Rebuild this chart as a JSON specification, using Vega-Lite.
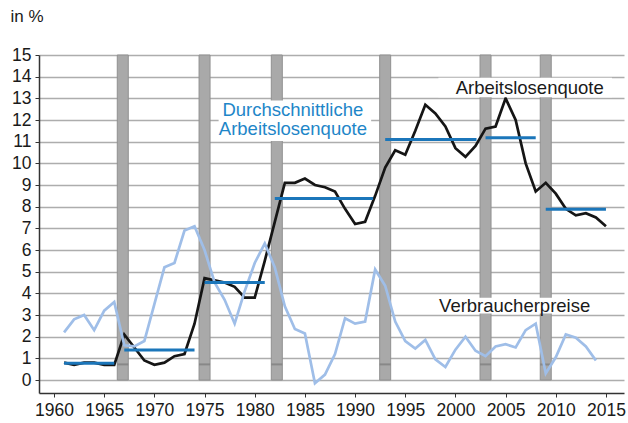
{
  "$schema": "https://vega.github.io/schema/vega-lite/v6.json",
  "width": 585,
  "height": 338,
  "autosize": "none",
  "padding": {"left": 39, "top": 55, "right": 4, "bottom": 30},
  "background": "white",
  "config": {
    "view": {"stroke": null},
    "font": "Liberation Sans",
    "axis": {"labelFont": "Liberation Sans", "titleFont": "Liberation Sans", "labelColor": "#1a1a1a", "titleColor": "#1a1a1a"}
  },
  "datasets": {
    "series": [
      {"year": 1961, "series": "Arbeitslosenquote", "value": 0.8},
      {"year": 1962, "series": "Arbeitslosenquote", "value": 0.7},
      {"year": 1963, "series": "Arbeitslosenquote", "value": 0.8},
      {"year": 1964, "series": "Arbeitslosenquote", "value": 0.8},
      {"year": 1965, "series": "Arbeitslosenquote", "value": 0.7},
      {"year": 1966, "series": "Arbeitslosenquote", "value": 0.7},
      {"year": 1967, "series": "Arbeitslosenquote", "value": 2.1},
      {"year": 1968, "series": "Arbeitslosenquote", "value": 1.5},
      {"year": 1969, "series": "Arbeitslosenquote", "value": 0.9},
      {"year": 1970, "series": "Arbeitslosenquote", "value": 0.7},
      {"year": 1971, "series": "Arbeitslosenquote", "value": 0.8},
      {"year": 1972, "series": "Arbeitslosenquote", "value": 1.1},
      {"year": 1973, "series": "Arbeitslosenquote", "value": 1.2},
      {"year": 1974, "series": "Arbeitslosenquote", "value": 2.6},
      {"year": 1975, "series": "Arbeitslosenquote", "value": 4.7},
      {"year": 1976, "series": "Arbeitslosenquote", "value": 4.6},
      {"year": 1977, "series": "Arbeitslosenquote", "value": 4.5},
      {"year": 1978, "series": "Arbeitslosenquote", "value": 4.3},
      {"year": 1979, "series": "Arbeitslosenquote", "value": 3.8},
      {"year": 1980, "series": "Arbeitslosenquote", "value": 3.8},
      {"year": 1981, "series": "Arbeitslosenquote", "value": 5.5},
      {"year": 1982, "series": "Arbeitslosenquote", "value": 7.3},
      {"year": 1983, "series": "Arbeitslosenquote", "value": 9.1},
      {"year": 1984, "series": "Arbeitslosenquote", "value": 9.1},
      {"year": 1985, "series": "Arbeitslosenquote", "value": 9.3},
      {"year": 1986, "series": "Arbeitslosenquote", "value": 9.0},
      {"year": 1987, "series": "Arbeitslosenquote", "value": 8.9},
      {"year": 1988, "series": "Arbeitslosenquote", "value": 8.7},
      {"year": 1989, "series": "Arbeitslosenquote", "value": 7.9},
      {"year": 1990, "series": "Arbeitslosenquote", "value": 7.2},
      {"year": 1991, "series": "Arbeitslosenquote", "value": 7.3},
      {"year": 1992, "series": "Arbeitslosenquote", "value": 8.5},
      {"year": 1993, "series": "Arbeitslosenquote", "value": 9.8},
      {"year": 1994, "series": "Arbeitslosenquote", "value": 10.6},
      {"year": 1995, "series": "Arbeitslosenquote", "value": 10.4},
      {"year": 1996, "series": "Arbeitslosenquote", "value": 11.5},
      {"year": 1997, "series": "Arbeitslosenquote", "value": 12.7},
      {"year": 1998, "series": "Arbeitslosenquote", "value": 12.3},
      {"year": 1999, "series": "Arbeitslosenquote", "value": 11.7},
      {"year": 2000, "series": "Arbeitslosenquote", "value": 10.7},
      {"year": 2001, "series": "Arbeitslosenquote", "value": 10.3},
      {"year": 2002, "series": "Arbeitslosenquote", "value": 10.8},
      {"year": 2003, "series": "Arbeitslosenquote", "value": 11.6},
      {"year": 2004, "series": "Arbeitslosenquote", "value": 11.7},
      {"year": 2005, "series": "Arbeitslosenquote", "value": 13.0},
      {"year": 2006, "series": "Arbeitslosenquote", "value": 12.0},
      {"year": 2007, "series": "Arbeitslosenquote", "value": 10.0},
      {"year": 2008, "series": "Arbeitslosenquote", "value": 8.7},
      {"year": 2009, "series": "Arbeitslosenquote", "value": 9.1},
      {"year": 2010, "series": "Arbeitslosenquote", "value": 8.6},
      {"year": 2011, "series": "Arbeitslosenquote", "value": 7.9},
      {"year": 2012, "series": "Arbeitslosenquote", "value": 7.6},
      {"year": 2013, "series": "Arbeitslosenquote", "value": 7.7},
      {"year": 2014, "series": "Arbeitslosenquote", "value": 7.5},
      {"year": 2015, "series": "Arbeitslosenquote", "value": 7.1},
      {"year": 1961, "series": "Verbraucherpreise", "value": 2.2},
      {"year": 1962, "series": "Verbraucherpreise", "value": 2.8},
      {"year": 1963, "series": "Verbraucherpreise", "value": 3.0},
      {"year": 1964, "series": "Verbraucherpreise", "value": 2.3},
      {"year": 1965, "series": "Verbraucherpreise", "value": 3.2},
      {"year": 1966, "series": "Verbraucherpreise", "value": 3.6},
      {"year": 1967, "series": "Verbraucherpreise", "value": 1.6},
      {"year": 1968, "series": "Verbraucherpreise", "value": 1.55},
      {"year": 1969, "series": "Verbraucherpreise", "value": 1.8},
      {"year": 1970, "series": "Verbraucherpreise", "value": 3.5},
      {"year": 1971, "series": "Verbraucherpreise", "value": 5.2},
      {"year": 1972, "series": "Verbraucherpreise", "value": 5.4},
      {"year": 1973, "series": "Verbraucherpreise", "value": 6.9},
      {"year": 1974, "series": "Verbraucherpreise", "value": 7.1},
      {"year": 1975, "series": "Verbraucherpreise", "value": 6.0},
      {"year": 1976, "series": "Verbraucherpreise", "value": 4.5},
      {"year": 1977, "series": "Verbraucherpreise", "value": 3.7},
      {"year": 1978, "series": "Verbraucherpreise", "value": 2.6},
      {"year": 1979, "series": "Verbraucherpreise", "value": 4.1},
      {"year": 1980, "series": "Verbraucherpreise", "value": 5.4},
      {"year": 1981, "series": "Verbraucherpreise", "value": 6.3},
      {"year": 1982, "series": "Verbraucherpreise", "value": 5.2},
      {"year": 1983, "series": "Verbraucherpreise", "value": 3.4},
      {"year": 1984, "series": "Verbraucherpreise", "value": 2.35},
      {"year": 1985, "series": "Verbraucherpreise", "value": 2.15},
      {"year": 1986, "series": "Verbraucherpreise", "value": -0.15},
      {"year": 1987, "series": "Verbraucherpreise", "value": 0.25},
      {"year": 1988, "series": "Verbraucherpreise", "value": 1.2},
      {"year": 1989, "series": "Verbraucherpreise", "value": 2.85},
      {"year": 1990, "series": "Verbraucherpreise", "value": 2.6},
      {"year": 1991, "series": "Verbraucherpreise", "value": 2.7},
      {"year": 1992, "series": "Verbraucherpreise", "value": 5.1},
      {"year": 1993, "series": "Verbraucherpreise", "value": 4.35},
      {"year": 1994, "series": "Verbraucherpreise", "value": 2.7},
      {"year": 1995, "series": "Verbraucherpreise", "value": 1.8},
      {"year": 1996, "series": "Verbraucherpreise", "value": 1.45},
      {"year": 1997, "series": "Verbraucherpreise", "value": 1.85},
      {"year": 1998, "series": "Verbraucherpreise", "value": 0.95},
      {"year": 1999, "series": "Verbraucherpreise", "value": 0.6},
      {"year": 2000, "series": "Verbraucherpreise", "value": 1.4},
      {"year": 2001, "series": "Verbraucherpreise", "value": 2.0},
      {"year": 2002, "series": "Verbraucherpreise", "value": 1.35},
      {"year": 2003, "series": "Verbraucherpreise", "value": 1.1},
      {"year": 2004, "series": "Verbraucherpreise", "value": 1.55},
      {"year": 2005, "series": "Verbraucherpreise", "value": 1.65},
      {"year": 2006, "series": "Verbraucherpreise", "value": 1.5},
      {"year": 2007, "series": "Verbraucherpreise", "value": 2.3},
      {"year": 2008, "series": "Verbraucherpreise", "value": 2.6},
      {"year": 2009, "series": "Verbraucherpreise", "value": 0.3},
      {"year": 2010, "series": "Verbraucherpreise", "value": 1.05},
      {"year": 2011, "series": "Verbraucherpreise", "value": 2.1},
      {"year": 2012, "series": "Verbraucherpreise", "value": 1.95},
      {"year": 2013, "series": "Verbraucherpreise", "value": 1.55},
      {"year": 2014, "series": "Verbraucherpreise", "value": 0.9}
    ],
    "averages": [
      {"from": 1961, "to": 1966, "value": 0.77},
      {"from": 1967, "to": 1974, "value": 1.38},
      {"from": 1975, "to": 1981, "value": 4.5},
      {"from": 1982, "to": 1991.8, "value": 8.38},
      {"from": 1993, "to": 2002.1, "value": 11.1},
      {"from": 2003, "to": 2008, "value": 11.18},
      {"from": 2009, "to": 2015, "value": 7.88}
    ],
    "recessions": [
      {"year": 1966.85},
      {"year": 1975},
      {"year": 1982.2},
      {"year": 1993},
      {"year": 2003},
      {"year": 2009}
    ],
    "boxes": [
      {"x1": 1976.4, "x2": 1991.6, "y1": 11.03, "y2": 12.9},
      {"x1": 1998.3, "x2": 2015.6, "y1": 13.05, "y2": 13.95},
      {"x1": 1997.5, "x2": 2015.1, "y1": 3.07, "y2": 3.8}
    ],
    "labels": [
      {"text": "Durchschnittliche\nArbeitslosenquote", "x": 1983.8, "y": 12.44, "kind": "avg"},
      {"text": "Arbeitslosenquote", "x": 2007.4, "y": 13.46, "kind": "main"},
      {"text": "Verbraucherpreise", "x": 2005.9, "y": 3.41, "kind": "main"}
    ]
  },
  "encoding": {
    "x": {
      "type": "quantitative",
      "scale": {"domain": [1959.0, 2016.3], "nice": false, "zero": false},
      "axis": {
        "values": [1960, 1965, 1970, 1975, 1980, 1985, 1990, 1995, 2000, 2005, 2010, 2015],
        "title": null,
        "grid": false,
        "format": "d",
        "labelFontSize": 17.5,
        "labelPadding": 4,
        "tickSize": 4,
        "tickColor": "#333333",
        "domainColor": "#333333",
        "domainWidth": 1.5,
        "labelOverlap": false,
        "labelFlush": false
      }
    },
    "y": {
      "type": "quantitative",
      "scale": {"domain": [-0.6, 15], "nice": false, "zero": false},
      "axis": {
        "values": [0, 1, 2, 3, 4, 5, 6, 7, 8, 9, 10, 11, 12, 13, 14, 15],
        "title": "in %",
        "titleAngle": 0,
        "titleX": -29,
        "titleY": -39,
        "titleAlign": "left",
        "titleBaseline": "middle",
        "titleFontSize": 17,
        "titleFontWeight": "normal",
        "grid": true,
        "gridColor": "#adadad",
        "gridWidth": 1.5,
        "labelFontSize": 17.5,
        "labelPadding": 4,
        "tickSize": 4,
        "tickColor": "#333333",
        "domainColor": "#333333",
        "domainWidth": 1.5,
        "labelOverlap": false,
        "labelFlush": false
      }
    }
  },
  "resolve": {"scale": {"color": "independent"}},
  "layer": [
    {
      "data": {"name": "recessions"},
      "mark": {"type": "bar", "size": 11, "color": "#a9a9a9", "stroke": "#909090", "strokeWidth": 1},
      "encoding": {
        "x": {"field": "year", "type": "quantitative"},
        "y": {"datum": 15, "type": "quantitative"},
        "y2": {"datum": 0}
      }
    },
    {
      "data": {"name": "recessions"},
      "mark": {"type": "tick", "orient": "horizontal", "size": 11, "thickness": 2, "color": "#7a7a7a"},
      "encoding": {
        "x": {"field": "year", "type": "quantitative"},
        "y": {"datum": 0.72, "type": "quantitative"}
      }
    },
    {
      "data": {"name": "series"},
      "mark": {"type": "line", "strokeWidth": 2.7, "strokeJoin": "miter"},
      "encoding": {
        "x": {"field": "year", "type": "quantitative"},
        "y": {"field": "value", "type": "quantitative"},
        "color": {
          "field": "series",
          "type": "nominal",
          "scale": {"domain": ["Verbraucherpreise", "Arbeitslosenquote"], "range": ["#9fbee8", "#151515"]},
          "legend": null
        },
        "order": {"field": "year"}
      }
    },
    {
      "data": {"name": "averages"},
      "mark": {"type": "rule", "strokeWidth": 3, "color": "#1b76ba"},
      "encoding": {
        "x": {"field": "from", "type": "quantitative"},
        "x2": {"field": "to"},
        "y": {"field": "value", "type": "quantitative"}
      }
    },
    {
      "data": {"name": "boxes"},
      "mark": {"type": "rect", "color": "white"},
      "encoding": {
        "x": {"field": "x1", "type": "quantitative"},
        "x2": {"field": "x2"},
        "y": {"field": "y1", "type": "quantitative"},
        "y2": {"field": "y2"}
      }
    },
    {
      "data": {"name": "labels"},
      "mark": {"type": "text", "fontSize": 18.5, "align": "center", "baseline": "middle", "lineBreak": "\n", "lineHeight": 19, "font": "Liberation Sans"},
      "encoding": {
        "x": {"field": "x", "type": "quantitative"},
        "y": {"field": "y", "type": "quantitative"},
        "text": {"field": "text"},
        "color": {
          "field": "kind",
          "type": "nominal",
          "scale": {"domain": ["avg", "main"], "range": ["#1e86c8", "#1a1a1a"]},
          "legend": null
        }
      }
    }
  ]
}
